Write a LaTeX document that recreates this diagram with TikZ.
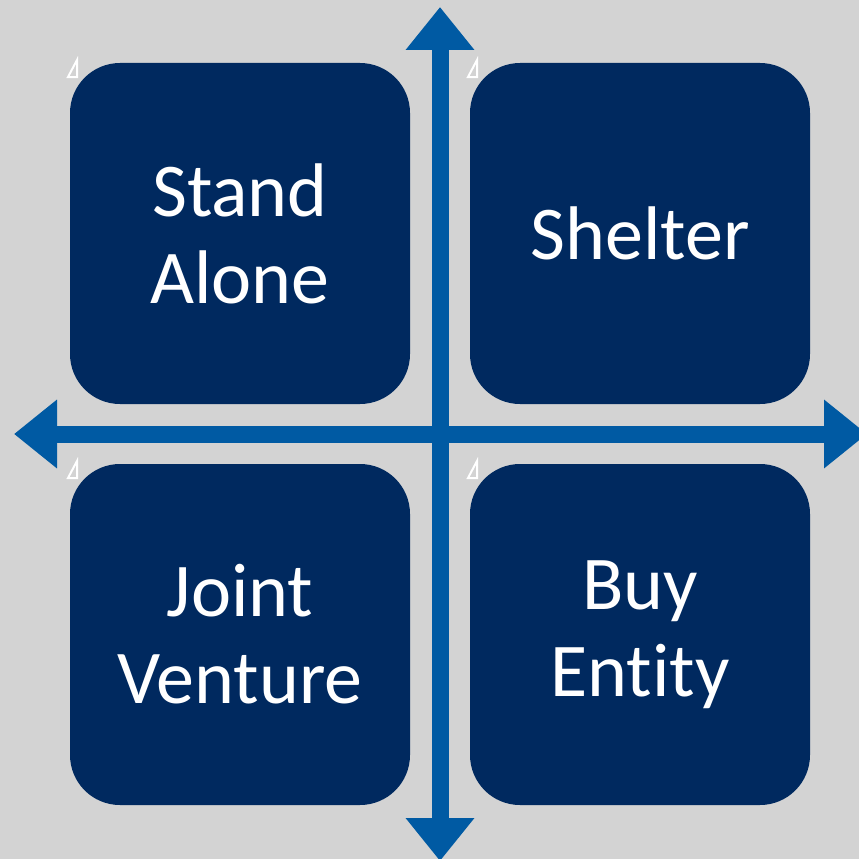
\documentclass[tikz,border=0pt]{standalone}
\usepackage{fontspec}
\setmainfont[Ligatures=NoCommon]{Carlito}
\usetikzlibrary{arrows.meta}
\definecolor{bgray}{HTML}{D3D3D3}
\definecolor{navy}{HTML}{00295F}
\definecolor{axisblue}{HTML}{005AA3}
\tikzset{
  quad/.style={fill=navy, rounded corners=50pt, minimum width=340pt, minimum height=341pt,
    inner sep=0pt, text=white, align=center, font=\fontsize{76}{87}\selectfont},
  axis/.style={draw=axisblue, line width=17pt, {Triangle[width=66pt,length=43pt]}-{Triangle[width=66pt,length=43pt]}},
  mark glyph/.style={draw=white, line width=2pt, line join=miter}
}
\begin{document}
\begin{tikzpicture}[x=1pt,y=-1pt]
\fill[bgray] (0,0) rectangle (859,859);
\useasboundingbox (0,0) rectangle (859,859);
\node[quad] (sa) at (240,233.5) {Stand\\Alone};
\node[quad] (sh) at (640,233.5) {Shelter};
\node[quad] (jv) at (240,634.5) {Joint\\Venture};
\node[quad] (be) at (640,634.5) {Buy\\Entity};
\coordinate (top) at (440,7);
\coordinate (bottom) at (440,861);
\coordinate (left) at (14,434);
\coordinate (right) at (867,434);
\draw[axis] (left) -- (right);
\draw[axis] (top) -- (bottom);
\foreach \x/\y in {68/77, 468/77, 68/478, 468/478}{
  \draw[mark glyph] (\x,\y) -- (\x+9,\y) -- (\x+9,\y-17) -- cycle;
}
\end{tikzpicture}
\end{document}
